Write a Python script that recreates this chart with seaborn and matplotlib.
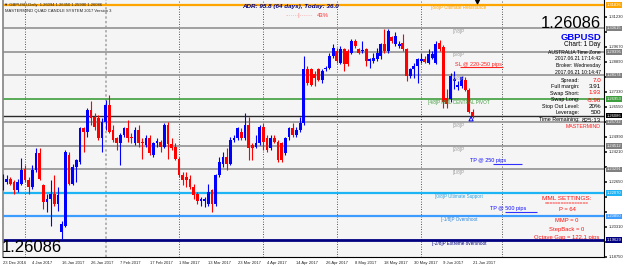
import matplotlib
matplotlib.use("Agg")
import numpy as np
import pandas as pd
import matplotlib.pyplot as plt
from matplotlib import font_manager
import seaborn as sns

W, H = 625, 267

# GBPUSD daily bars, 23 Dec 2016 .. 21 Jun 2017 (weekdays, as on the chart)
dates = pd.bdate_range("2016-12-23", "2017-06-21")

opens = [1.2229, 1.2263, 1.2281, 1.2263, 1.2220, 1.2255, 1.2333, 1.2272, 1.2237, 1.2325,
         1.2412, 1.2246, 1.2159, 1.2176, 1.2202, 1.2150, 1.2005, 1.2036, 1.2403, 1.2255,
         1.2342, 1.2368, 1.2543, 1.2526, 1.2639, 1.2604, 1.2595, 1.2490, 1.2578, 1.2665,
         1.2534, 1.2490, 1.2464, 1.2508, 1.2543, 1.2499, 1.2464, 1.2534, 1.2473, 1.2456,
         1.2490, 1.2403, 1.2464, 1.2473, 1.2447, 1.2560, 1.2460, 1.2447, 1.2386, 1.2298,
         1.2290, 1.2281, 1.2237, 1.2202, 1.2167, 1.2167, 1.2150, 1.2220, 1.2150, 1.2298,
         1.2360, 1.2395, 1.2360, 1.2482, 1.2490, 1.2526, 1.2490, 1.2560, 1.2455, 1.2447,
         1.2464, 1.2552, 1.2490, 1.2438, 1.2490, 1.2473, 1.2464, 1.2412, 1.2499, 1.2543,
         1.2508, 1.2534, 1.2569, 1.2849, 1.2849, 1.2823, 1.2849, 1.2796, 1.2849, 1.2858,
         1.2919, 1.2945, 1.2884, 1.2954, 1.2945, 1.2936, 1.2997, 1.2954, 1.2945, 1.2954,
         1.2893, 1.2893, 1.2901, 1.2919, 1.2980, 1.2945, 1.3015, 1.2980, 1.2971, 1.2985,
         1.2954, 1.2814, 1.2849, 1.2866, 1.2893, 1.2905, 1.2883, 1.2910, 1.2883, 1.2988,
         1.2964, 1.2700, 1.2695, 1.2790, 1.2755, 1.2760, 1.2796, 1.2744, 1.2628]
highs = [1.2307, 1.2298, 1.2290, 1.2272, 1.2281, 1.2391, 1.2350, 1.2290, 1.2351, 1.2438,
         1.2438, 1.2255, 1.2202, 1.2272, 1.2298, 1.2237, 1.2062, 1.2430, 1.2421, 1.2360,
         1.2386, 1.2552, 1.2552, 1.2648, 1.2683, 1.2621, 1.2612, 1.2595, 1.2691, 1.2718,
         1.2560, 1.2499, 1.2517, 1.2552, 1.2587, 1.2517, 1.2552, 1.2560, 1.2490, 1.2508,
         1.2508, 1.2473, 1.2490, 1.2482, 1.2569, 1.2578, 1.2490, 1.2464, 1.2395, 1.2316,
         1.2316, 1.2298, 1.2255, 1.2211, 1.2185, 1.2185, 1.2255, 1.2228, 1.2307, 1.2395,
         1.2421, 1.2438, 1.2499, 1.2508, 1.2552, 1.2543, 1.2621, 1.2604, 1.2464, 1.2508,
         1.2560, 1.2569, 1.2508, 1.2508, 1.2508, 1.2482, 1.2473, 1.2499, 1.2552, 1.2569,
         1.2552, 1.2604, 1.2919, 1.2866, 1.2858, 1.2840, 1.2858, 1.2849, 1.2866, 1.2936,
         1.2980, 1.2962, 1.2971, 1.2962, 1.2954, 1.3006, 1.3006, 1.2962, 1.2997, 1.2962,
         1.2910, 1.2936, 1.2962, 1.2988, 1.3058, 1.3058, 1.3024, 1.3041, 1.2997, 1.3032,
         1.2962, 1.2858, 1.2884, 1.2910, 1.2936, 1.2920, 1.2954, 1.2945, 1.2997, 1.3000,
         1.2975, 1.2745, 1.2830, 1.2840, 1.2790, 1.2815, 1.2810, 1.2750, 1.2645]
lows = [1.2223, 1.2255, 1.2246, 1.2202, 1.2211, 1.2246, 1.2263, 1.2202, 1.2229, 1.2316,
        1.2272, 1.2124, 1.2106, 1.2036, 1.2141, 1.2115, 1.1968, 1.2030, 1.2246, 1.2246,
        1.2263, 1.2360, 1.2421, 1.2499, 1.2560, 1.2534, 1.2482, 1.2421, 1.2534, 1.2517,
        1.2473, 1.2430, 1.2351, 1.2499, 1.2473, 1.2464, 1.2455, 1.2447, 1.2386, 1.2447,
        1.2403, 1.2395, 1.2447, 1.2421, 1.2438, 1.2385, 1.2430, 1.2377, 1.2290, 1.2246,
        1.2237, 1.2229, 1.2176, 1.2150, 1.2141, 1.2132, 1.2141, 1.2106, 1.2141, 1.2290,
        1.2342, 1.2325, 1.2351, 1.2473, 1.2482, 1.2482, 1.2482, 1.2377, 1.2377, 1.2438,
        1.2455, 1.2430, 1.2421, 1.2430, 1.2464, 1.2368, 1.2368, 1.2403, 1.2482, 1.2499,
        1.2499, 1.2526, 1.2560, 1.2770, 1.2762, 1.2762, 1.2788, 1.2779, 1.2840, 1.2849,
        1.2910, 1.2884, 1.2875, 1.2840, 1.2866, 1.2927, 1.2962, 1.2927, 1.2936, 1.2866,
        1.2858, 1.2884, 1.2893, 1.2901, 1.2936, 1.2936, 1.2988, 1.2971, 1.2962, 1.2945,
        1.2788, 1.2805, 1.2805, 1.2779, 1.2884, 1.2880, 1.2875, 1.2901, 1.2875, 1.2945,
        1.2650, 1.2650, 1.2680, 1.2745, 1.2740, 1.2750, 1.2735, 1.2620, 1.2598]
closes = [1.2298, 1.2281, 1.2255, 1.2220, 1.2263, 1.2325, 1.2272, 1.2237, 1.2325, 1.2412,
          1.2281, 1.2159, 1.2176, 1.2202, 1.2150, 1.2194, 1.2045, 1.2421, 1.2255, 1.2342,
          1.2377, 1.2543, 1.2526, 1.2639, 1.2595, 1.2552, 1.2490, 1.2578, 1.2665, 1.2526,
          1.2482, 1.2464, 1.2508, 1.2543, 1.2490, 1.2490, 1.2534, 1.2464, 1.2464, 1.2490,
          1.2412, 1.2464, 1.2477, 1.2447, 1.2560, 1.2460, 1.2440, 1.2386, 1.2298, 1.2272,
          1.2272, 1.2237, 1.2194, 1.2167, 1.2176, 1.2176, 1.2211, 1.2150, 1.2298, 1.2368,
          1.2395, 1.2360, 1.2482, 1.2490, 1.2543, 1.2490, 1.2560, 1.2438, 1.2438, 1.2464,
          1.2552, 1.2473, 1.2430, 1.2490, 1.2473, 1.2377, 1.2377, 1.2490, 1.2543, 1.2508,
          1.2534, 1.2569, 1.2849, 1.2779, 1.2770, 1.2805, 1.2796, 1.2840, 1.2858, 1.2919,
          1.2962, 1.2893, 1.2954, 1.2875, 1.2875, 1.2997, 1.2971, 1.2936, 1.2950, 1.2893,
          1.2901, 1.2910, 1.2936, 1.2980, 1.2945, 1.3050, 1.2997, 1.3023, 1.2980, 1.2954,
          1.2814, 1.2849, 1.2866, 1.2901, 1.2901, 1.2888, 1.2927, 1.2927, 1.2980, 1.2955,
          1.2680, 1.2668, 1.2815, 1.2800, 1.2770, 1.2807, 1.2744, 1.2628, 1.26086]

# Murrey math levels (octave gap 122.1 pips)
mml_levels = [1.31836, 1.30615, 1.29395, 1.28174, 1.26953, 1.25732,
              1.24512, 1.23291, 1.22070, 1.20850, 1.19629]
mml_names = ["[8/8]P Ultimate Resistance", "[7/8]P", "[6/8]P", "[5/8]P",
             "[4/8]P MML CENTRAL PIVOT", "[3/8]P", "[2/8]P", "[1/8]P",
             "[0/8]P Ultimate Support", "[-1/8]P Overshoot", "[-2/8]P Extreme overshoot"]
mml_colors = ["#FFA500", "#9A9A9A", "#9A9A9A", "#9A9A9A", "#3E9E3E", "#9A9A9A",
              "#9A9A9A", "#9A9A9A", "#1CB4F4", "#3C9CFF", "#000080"]
mml_text_colors = ["#FFA500", "#9A9A9A", "#9A9A9A", "#9A9A9A", "#3E9E3E", "#9A9A9A",
                   "#9A9A9A", "#9A9A9A", "#30A0E0", "#2C84D8", "#000080"]
mml_widths = [1.6, 1.3, 1.3, 1.3, 1.2, 1.3, 1.3, 1.3, 1.6, 1.6, 2.0]

bid = 1.26086
sl_price = 1.2859
tp_prices = [1.2359, 1.2109]
tp_labels = ["TP @ 250 pips", "TP @ 500 pips"]

date_labels = ["23 Dec 2016", "4 Jan 2017", "16 Jan 2017", "26 Jan 2017", "7 Feb 2017",
               "17 Feb 2017", "1 Mar 2017", "13 Mar 2017", "23 Mar 2017", "4 Apr 2017",
               "14 Apr 2017", "26 Apr 2017", "8 May 2017", "18 May 2017", "30 May 2017",
               "9 Jun 2017", "21 Jun 2017"]
price_ticks = [1.18750, 1.19530, 1.20310, 1.21090, 1.21870, 1.22650, 1.23430, 1.24210,
               1.24990, 1.25770, 1.26550, 1.27330, 1.28110, 1.28890, 1.29670, 1.30450,
               1.31230]

info_labels = ["Spread:", "Full margin:", "Swap Short:", "Swap Long:",
               "Stop Out Level:", "Leverage:", "Time Remaining:"]
info_values = ["7.0", "3.91", "1.93", "-5.96", "20%", "500", "825:13"]
info_value_colors = ["#FF0000", "black", "#FF0000", "#FF0000", "black", "black", "black"]

# ---- style ----
sns.set_theme(style="white", rc={"axes.facecolor": "#F5F5F5", "figure.facecolor": "white"})
plt.rcParams["font.family"] = ["Liberation Sans", "DejaVu Sans"]

installed = {f.name for f in font_manager.fontManager.ttflist}
narrow = "Liberation Sans Narrow" in installed
big_family = ["Liberation Sans Narrow", "Liberation Sans"] if narrow else ["Liberation Sans"]
big_size = 14.5 if narrow else 12

fig = plt.figure(figsize=(W / 100, H / 100), dpi=100)
ax = fig.add_axes([3 / W, 10 / H, 601 / W, 257 / H])
ax.set_xlim(0.08, 163.84)
ax.set_ylim(1.18746, 1.32090)


def put(px, py, s, **kw):
    kw.setdefault("va", "center")
    fig.text(px / W, 1 - py / H, s, **kw)


# month separators (dotted), incl. the next one in the shifted area
all_days = pd.bdate_range("2016-12-23", "2017-07-31")
month_start = np.where(all_days.month != np.roll(all_days.month, 1))[0][1:]
for i in month_start:
    if all_days[i].month == 2:
        ax.axvline(i, color="#A0A0A0", lw=1.1, ls=(0, (1.5, 1.5)), zorder=1)
    else:
        ax.axvline(i, color="#222222", lw=0.6, ls=(0, (1, 2)), zorder=1)

# MML lines + labels
for lvl, name, lc, tc, lw in zip(mml_levels, mml_names, mml_colors, mml_text_colors, mml_widths):
    ax.axhline(lvl, color=lc, lw=lw, zorder=2)
    ax.text(124.3, lvl - 0.0003, name, color=tc, fontsize=3.3, ha="center", va="top", zorder=6)
ax.axhline(bid, color="#2A2A2A", lw=1.0, zorder=2)

# candles
x = np.arange(len(opens))
o, h, l, c = (np.array(v) for v in (opens, highs, lows, closes))
col = np.where(c >= o, "#0000FF", "#FF0000")
ax.vlines(x, l, h, colors=col, lw=0.8, zorder=3)
ax.bar(x, np.maximum(np.abs(c - o), 0.0004), bottom=np.minimum(o, c), width=0.75,
       color=col, linewidth=0, zorder=4)

# arrow under the current bar and chart-shift marker
sns.scatterplot(x=[x[-1] - 0.4], y=[l[-1] - 0.0006], marker="^", s=9, facecolor="none",
                edgecolor="#0000FF", linewidth=0.7, ax=ax, zorder=7)
ax.scatter([x[-1] + 1.3], [0.996], marker="v", s=10, color="black",
           transform=ax.get_xaxis_transform(), clip_on=False, zorder=8)

# SL / TP markers
ax.hlines(sl_price, 124.6, 136.3, color="#FF2020", lw=0.8, zorder=5)
ax.text(129.5, sl_price + 0.0003, "SL @ 220-250 pips", color="#FF2020", fontsize=4,
        ha="center", va="bottom", zorder=6)
for tp, lab, (x0, x1), tx in zip(tp_prices, tp_labels, [(133.6, 141.5), (136.9, 145.6)], [132.2, 137.6]):
    ax.hlines(tp, x0, x1, color="#3030FF", lw=0.8, zorder=5)
    ax.text(tx, tp + 0.0003, lab, color="#1010FF", fontsize=4, ha="center", va="bottom", zorder=6)

# axes: dates at the bottom, prices on the right
ax.set_xticks(x[::8])
ax.set_xticklabels(date_labels, fontsize=3, ha="left")
ax.yaxis.tick_right()
ax.set_yticks(price_ticks)
# scale labels that sit under a level box are hidden, as on the terminal
boxed = mml_levels + [bid]
tick_text = ["" if min(abs(v - b) for b in boxed) < 0.0027 else f"{v:.5f}" for v in price_ticks]
ax.set_yticklabels(tick_text, fontsize=3)
ax.tick_params(axis="x", length=2, pad=1, colors="#222222")
ax.tick_params(axis="y", length=2, pad=1.5, colors="#222222")
ax.spines["top"].set_visible(False)
ax.spines["left"].set_color("#888888")
for s in ("right", "bottom"):
    ax.spines[s].set_color("black")
    ax.spines[s].set_linewidth(0.8)

# price boxes on the right scale
ytr = ax.get_yaxis_transform()
for lvl, lc in zip(boxed, mml_colors + ["black"]):
    fc = "#808080" if lc == "#9A9A9A" else lc
    ax.text(1.004, lvl, f"{lvl:.5f}", transform=ytr, fontsize=3.0, color="white",
            ha="left", va="center", clip_on=False, zorder=10,
            bbox=dict(boxstyle="square,pad=0.15", fc=fc, ec="none"))

# header texts
put(4, 5, "\u25bc GBPUSD,Daily  1.26094 1.26350 1.25990 1.26086", ha="left", fontsize=3, color="#202020")
put(5, 11, "MASTERMIND QUAD CANDLE SYSTEM 2017 Version 3", ha="left", fontsize=3, color="#202020")
put(290, 6.5, "ADR: 95.8 (64 days), Today: 36.0", ha="center", fontsize=4.5, color="#000080",
    fontweight="bold", fontstyle="italic")
put(299, 15.5, "\u00b7\u00b7\u00b7\u00b7\u00b7\u00b7\u00b7|\u00b7\u00b7\u00b7\u00b7\u00b7\u00b7\u00b7",
    ha="center", fontsize=4, color="#FF7070")
put(317, 15.5, "43%", ha="left", fontsize=4.3, color="#FF3030")

# right info panel
put(601, 23, "1.26086", ha="right", fontsize=big_size, family=big_family, color="black")
put(601, 37, "GBPUSD", ha="right", fontsize=6.8, fontweight="bold", color="#0000FF")
put(601, 44.5, "Chart: 1 Day", ha="right", fontsize=4.7, color="black")
for yy, s in zip([53, 59, 65.5, 72], ["AUSTRALIA Time Zone", "2017.06.21 17:14:42",
                                      "Broker: Wednesday", "2017.06.21 10:14:47"]):
    put(601, yy, s, ha="right", fontsize=3.6, color="black")
for yy, lab, val, vc in zip([80, 86.5, 93, 100, 106.5, 113, 120], info_labels, info_values, info_value_colors):
    put(579.5, yy, lab, ha="right", fontsize=3.9, color="black")
    put(601, yy, val, ha="right", fontsize=4.5, color=vc)
put(601, 127, "MASTERMIND", ha="right", fontsize=3.8, color="#FF2020")

# MML settings block
for yy, s, fs in zip([198, 204, 209.5, 220, 229, 238],
                     ["MML SETTINGS:", "================", "P = 64", "MMP = 0",
                      "StepBack = 0", "Octave Gap = 122.1 pips"],
                     [4.6, 3.4, 4.2, 4.2, 4.2, 4.2]):
    put(567, yy, s, ha="center", fontsize=fs, color="#FF1010")

# last price, bottom left
put(2, 248, "1.26086", ha="left", fontsize=big_size, family=big_family, color="black")

fig.savefig("out.png", dpi=100)
